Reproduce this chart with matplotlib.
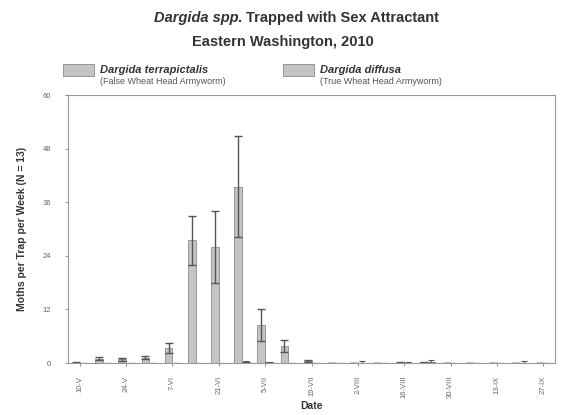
import matplotlib
matplotlib.use('Agg')
import matplotlib.pyplot as plt
import numpy as np
from matplotlib.patches import Rectangle

# weekly trap dates (every other one is labelled)
dates = ['10-V', '17-V', '24-V', '31-V', '7-VI', '14-VI', '21-VI', '28-VI',
         '5-VII', '12-VII', '19-VII', '26-VII', '2-VIII', '9-VIII', '16-VIII',
         '23-VIII', '30-VIII', '6-IX', '13-IX', '20-IX', '27-IX']
terrapictalis = [0.1, 1.0, 0.8, 1.2, 3.3, 27.5, 26.0, 39.5, 8.5, 3.8, 0.5,
                 0.1, 0.1, 0.1, 0.2, 0.2, 0.1, 0.1, 0.1, 0.1, 0.1]
terrapictalis_err = [0.1, 0.3, 0.3, 0.4, 1.1, 5.5, 8.0, 11.3, 3.5, 1.3, 0.2,
                     0.0, 0.0, 0.0, 0.1, 0.1, 0.0, 0.0, 0.0, 0.0, 0.0]
diffusa = [0.0, 0.1, 0.1, 0.1, 0.0, 0.0, 0.1, 0.3, 0.2, 0.0, 0.1,
           0.0, 0.1, 0.0, 0.1, 0.2, 0.1, 0.0, 0.0, 0.1, 0.0]
diffusa_err = [0.0, 0.0, 0.0, 0.0, 0.0, 0.0, 0.0, 0.1, 0.1, 0.0, 0.0,
               0.0, 0.3, 0.0, 0.2, 0.4, 0.0, 0.0, 0.0, 0.3, 0.0]

plt.rcParams['font.family'] = ['Liberation Sans', 'DejaVu Sans']

fig = plt.figure(figsize=(5.75, 4.15), dpi=100)
ax = fig.add_axes([68/575, 1-363/415, (555-68)/575, (363-95)/415])

x = np.arange(len(dates))
w = 0.33
bar_col = '#c4c4c4'
edge_col = '#8a8a8a'
ax.bar(x-w/2, terrapictalis, width=w, color=bar_col, ec=edge_col, lw=0.6,
       yerr=terrapictalis_err, error_kw=dict(ecolor='#555555', lw=1.0, capsize=3, capthick=1.0))
ax.bar(x+w/2, diffusa, width=w, color='#b0b0b0', ec='#666666', lw=0.6,
       yerr=diffusa_err, error_kw=dict(ecolor='#555555', lw=0.8, capsize=2, capthick=0.8))

ax.set_xlim(-0.5, len(dates)-0.5)
ax.set_ylim(0, 60)
ax.set_yticks([0, 12, 24, 36, 48, 60])
ax.set_xticks(x[::2])
ax.set_xticklabels(dates[::2], rotation=90)
ax.tick_params(axis='both', labelsize=5.5, colors='#666666', length=2, width=0.5)
ax.tick_params(axis='x', pad=7)
ax.tick_params(axis='y', pad=10)
for s in ax.spines.values():
    s.set_color('#999999')
    s.set_linewidth(0.8)

ax.set_ylabel('Moths per Trap per Week (N = 13)', fontsize=7.5, fontweight='bold',
              color='#333333')
ax.yaxis.set_label_coords(-0.084, 0.5)
ax.set_xlabel('Date', fontsize=7.5, fontweight='bold', color='#333333')
ax.xaxis.set_label_coords(0.5, -0.14)

# title, mixed italic / upright
fig.text(243/575, 1-18/415, 'Dargida spp.', ha='right', va='center', fontsize=10.5,
         fontweight='bold', style='italic', color='#333333')
fig.text(246/575, 1-18/415, 'Trapped with Sex Attractant', ha='left', va='center',
         fontsize=10.5, fontweight='bold', color='#333333')
fig.text(283/575, 1-42/415, 'Eastern Washington, 2010', ha='center', va='center',
         fontsize=10.5, fontweight='bold', color='#333333')

# hand-made legend
for px, name, common in [(63, 'Dargida terrapictalis', '(False Wheat Head Armyworm)'),
                         (283, 'Dargida diffusa', '(True Wheat Head Armyworm)')]:
    fig.patches.append(Rectangle((px/575, 1-76/415), 31/575, 12/415, transform=fig.transFigure,
                                 facecolor=bar_col, edgecolor=edge_col, lw=0.6))
    fig.text((px+37)/575, 1-70/415, name, ha='left', va='center', fontsize=8,
             fontweight='bold', style='italic', color='#333333')
    fig.text((px+37)/575, 1-81/415, common, ha='left', va='center', fontsize=6.5,
             color='#555555')

fig.savefig('out.png', dpi=100)
